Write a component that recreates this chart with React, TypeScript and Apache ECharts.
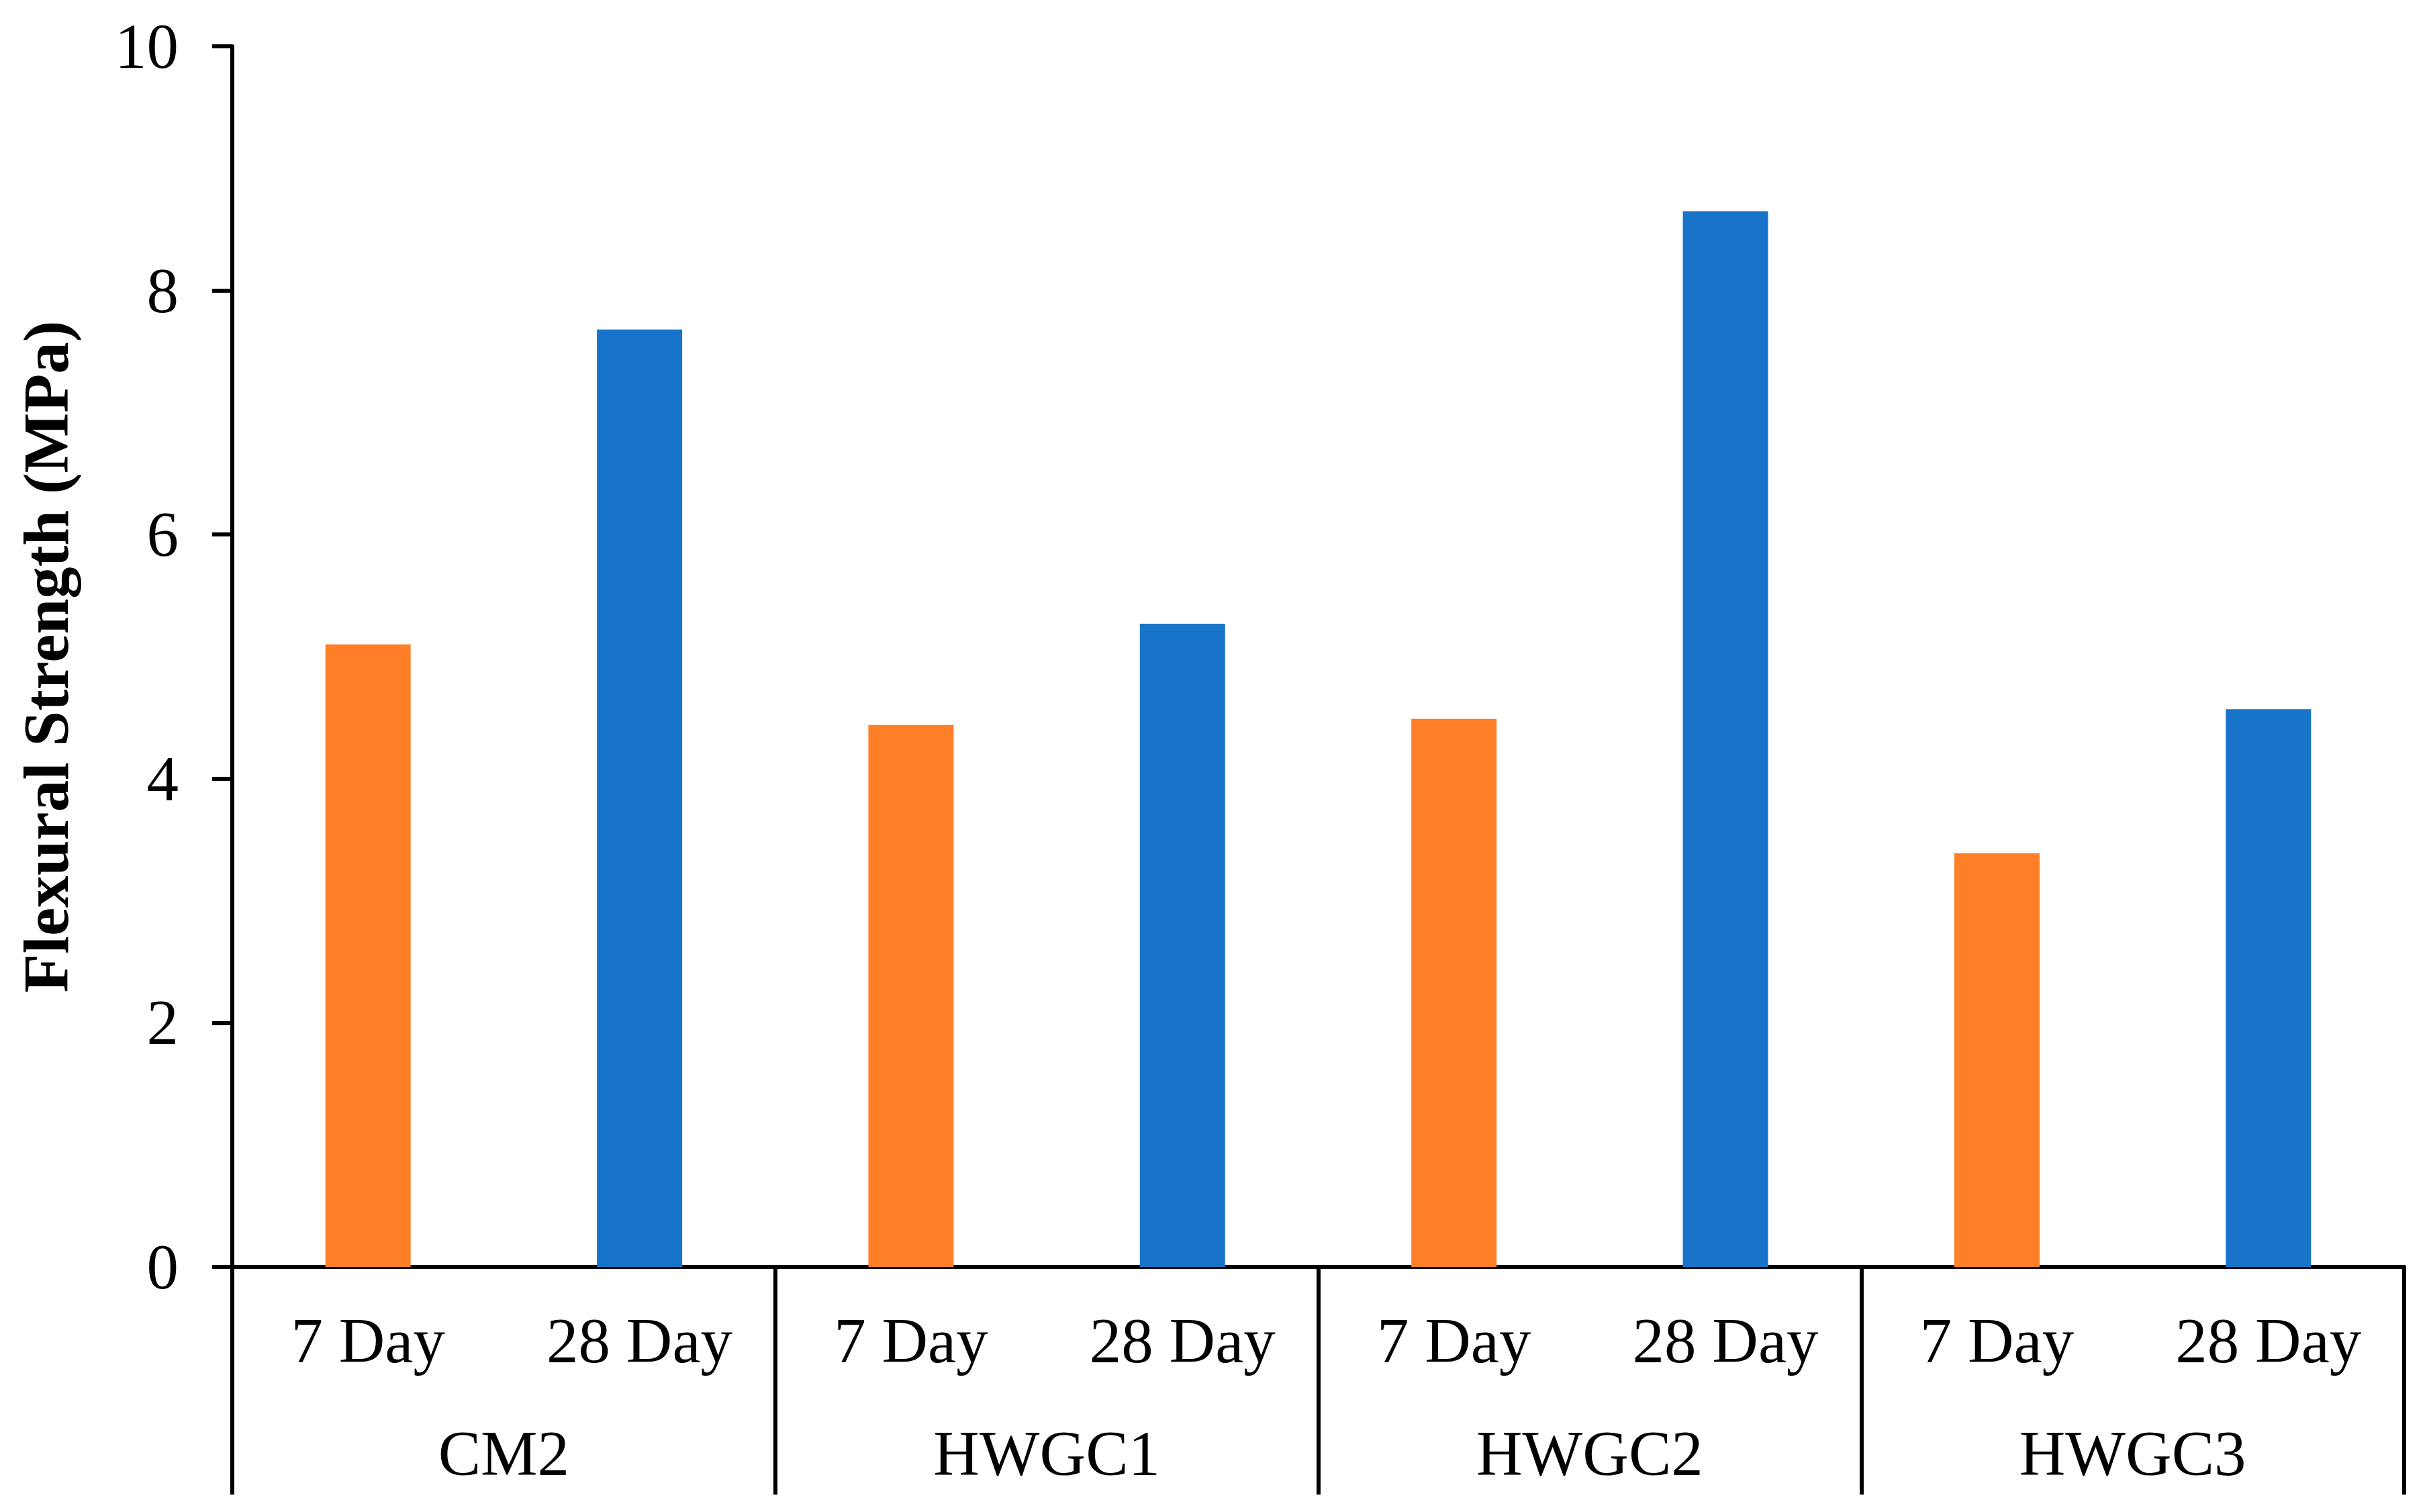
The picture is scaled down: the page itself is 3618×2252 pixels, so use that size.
import React, { useEffect, useRef } from "react";
import * as echarts from "echarts";

const categories = ["7 Day", "28 Day", "7 Day", "28 Day", "7 Day", "28 Day", "7 Day", "28 Day"];
const groups = ["CM2", "HWGC1", "HWGC2", "HWGC3"];
const strengthValues = [5.1, 7.68, 4.44, 5.27, 4.49, 8.65, 3.39, 4.57];
const barColors = ["#FE7F28", "#1874C9", "#FE7F28", "#1874C9", "#FE7F28", "#1874C9", "#FE7F28", "#1874C9"];
const yTicks = { min: 0, max: 10, interval: 2 };

const FONT = "'Liberation Serif', 'Times New Roman', serif";

export default function App() {
  const ref = useRef<HTMLDivElement>(null);
  useEffect(() => {
    document.body.style.margin = "0";
    const chart = echarts.init(ref.current!, null, { renderer: "svg" });
    chart.setOption({
      animation: false,
      backgroundColor: "#ffffff",
      grid: { left: 346, right: 37, top: 69, bottom: 365, containLabel: false },
      xAxis: [
        {
          type: "category",
          data: categories,
          position: "bottom",
          axisLine: { show: true, lineStyle: { color: "#000", width: 6 } },
          axisTick: { show: false },
          axisLabel: { fontFamily: FONT, fontSize: 95, color: "#000", margin: 62, interval: 0 },
        },
        {
          type: "category",
          data: groups,
          position: "bottom",
          axisLine: { show: false },
          axisTick: { show: true, length: 339, interval: 0, lineStyle: { color: "#000", width: 6 } },
          axisLabel: { fontFamily: FONT, fontSize: 95, color: "#000", margin: 230, interval: 0 },
        },
      ],
      yAxis: {
        type: "value",
        min: yTicks.min,
        max: yTicks.max,
        interval: yTicks.interval,
        name: "Flexural Strength (MPa)",
        nameLocation: "middle",
        nameGap: 230,
        nameTextStyle: { fontFamily: FONT, fontSize: 95, fontWeight: "bold", color: "#000" },
        axisLine: { show: true, lineStyle: { color: "#000", width: 6 } },
        axisTick: { show: true, length: 30, lineStyle: { color: "#000", width: 6 } },
        axisLabel: { fontFamily: FONT, fontSize: 95, color: "#000", margin: 80 },
        splitLine: { show: false },
      },
      series: [
        {
          type: "bar",
          xAxisIndex: 0,
          barWidth: "31.4%",
          data: strengthValues.map((v, i) => ({ value: v, itemStyle: { color: barColors[i] } })),
        },
      ],
    });
    return () => chart.dispose();
  }, []);
  return <div ref={ref} style={{ width: 3618, height: 2252, position: "absolute", left: 0, top: 0 }} />;
}
